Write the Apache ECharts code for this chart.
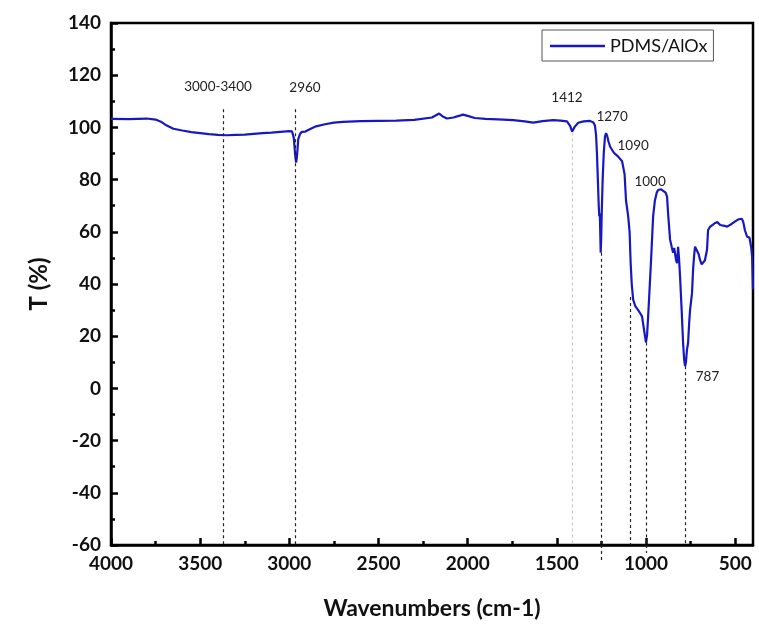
<!DOCTYPE html>
<html>
<head>
<meta charset="utf-8">
<script src="https://cdn.jsdelivr.net/npm/echarts@6/dist/echarts.min.js"></script>
<style>
    html, body { margin: 0; padding: 0; background: #fff; }
    #chart { width: 759px; height: 637px; }
</style>
</head>
<body>
<div id="chart"></div>
<script>
// FTIR spectrum
const wavenumbers = [
    4000, 3900, 3800, 3750, 3720, 3690, 3650, 3600, 3550, 3500, 3450, 3400, 3350, 3300, 3250, 3200,
    3150, 3100, 3050, 3000, 2985, 2975, 2968, 2962, 2957, 2950, 2940, 2930, 2922, 2910, 2880, 2850,
    2800, 2750, 2700, 2600, 2500, 2400, 2300, 2200, 2160, 2140, 2116, 2080, 2040, 2026, 2000, 1960,
    1900, 1800, 1745, 1680, 1633, 1580, 1521, 1480, 1443, 1425, 1414, 1400, 1380, 1350, 1314, 1295,
    1286, 1280, 1275, 1270, 1265, 1262, 1259, 1256, 1254, 1251, 1248, 1243, 1237, 1230, 1224, 1218,
    1210, 1201, 1180, 1156, 1134, 1120, 1112, 1100, 1092, 1086, 1080, 1072, 1060, 1044, 1030, 1022,
    1010, 1000, 994, 988, 980, 971, 960, 950, 940, 932, 915, 904, 890, 882, 875, 865,
    855, 848, 842, 837, 831, 826, 820, 815, 809, 800, 792, 786, 781, 776, 770, 764,
    758, 753, 748, 742, 736, 730, 725, 714, 705, 697, 688, 680, 670, 658, 652, 640,
    625, 612, 600, 596, 590, 584, 560, 545, 520, 500, 480, 473, 463, 455, 445, 433,
    420, 416, 410, 405, 400
];
const transmittance = [
    103.3, 103.2, 103.4, 103.0, 102.2, 100.8, 99.5, 98.8, 98.2, 97.8, 97.4, 97.1, 97.0, 97.1, 97.2, 97.5,
    97.8, 98.0, 98.3, 98.6, 98.5, 96.0, 90.0, 86.5, 89.0, 95.5, 97.5, 98.3, 97.8, 98.4, 99.5, 100.4,
    101.2, 101.8, 102.1, 102.4, 102.5, 102.6, 102.9, 103.8, 105.3, 104.2, 103.4, 103.8, 104.6, 104.9, 104.4, 103.6,
    103.3, 103.0, 102.8, 102.3, 101.8, 102.4, 102.8, 102.6, 102.3, 100.5, 98.4, 100.2, 101.8, 102.3, 102.5, 101.9,
    100.6, 97.0, 90.0, 80.0, 70.0, 66.0, 67.0, 58.0, 52.0, 58.0, 68.0, 80.0, 90.0, 96.5, 97.8, 96.8,
    94.5, 92.6, 90.3, 88.8, 87.0, 82.0, 72.0, 66.0, 60.0, 48.0, 40.0, 34.0, 31.5, 30.0, 28.5, 27.5,
    22.0, 17.6, 20.5, 27.5, 38.0, 50.0, 66.0, 72.0, 75.0, 76.0, 76.3, 76.0, 75.0, 73.5, 66.0, 57.0,
    54.0, 52.0, 53.8, 53.5, 49.0, 48.0, 54.2, 50.0, 42.8, 30.0, 17.4, 11.0, 8.5, 10.0, 15.0, 17.4,
    25.0, 30.0, 33.0, 36.5, 45.4, 51.0, 54.3, 54.6, 51.5, 49.2, 47.5, 47.3, 49.0, 53.0, 60.7, 62.0,
    62.7, 63.4, 63.7, 63.9, 63.2, 62.6, 62.3, 62.0, 63.0, 64.0, 64.8, 65.3, 65.0, 63.9, 60.5, 58.1,
    57.8, 57.6, 54.0, 50.5, 38.0
];

// axis ticks
const xMajorTicks = [500, 1000, 1500, 2000, 2500, 3000, 3500, 4000];
const xMinorTicks = [750, 1250, 1750, 2250, 2750, 3250, 3750];

// peak annotations: dashed guide lines and their labels
const peakLineX = [3370, 2965, 1414, 1252, 1089, 1000, 778];
const peakLineTop = [107, 107, 98, 52, 35, 17.6, 8.5];
const peakLineGray = [false, false, true, false, false, false, false];
const peakLabels = ['3000-3400', '2960', '1412', '1270', '1090', '1000', '787'];
const peakLabelX = [3400, 2912, 1443, 1190, 1072, 977, 655];
const peakLabelY = [115.5, 115.1, 111.3, 104, 92.9, 79.1, 4.4];

const FONT = 'Lato';
const LINE_COLOR = '#1818c0';
const TICK_STYLE = { color: '#000', width: 2.5 };

const chart = echarts.init(document.getElementById('chart'));

const guideLines = peakLineX.map((x, i) => [
    { coord: [x, peakLineTop[i]], lineStyle: { color: peakLineGray[i] ? '#c8c8c8' : '#222' } },
    { coord: [x, -60] }
]);

const labelPoints = peakLabels.map((text, i) => ({
    coord: [peakLabelX[i], peakLabelY[i]],
    value: text
}));

// axes that only carry ticks (same scale as the labelled ones)
function tickOnlyX(values, length) {
    return {
        type: 'value',
        inverse: true,
        min: 400,
        max: 4000,
        position: 'bottom',
        axisLine: { show: false, onZero: false },
        axisTick: { show: true, inside: true, length, customValues: values, lineStyle: TICK_STYLE },
        axisLabel: { show: false },
        splitLine: { show: false }
    };
}

chart.setOption({
    animation: false,
    textStyle: { fontFamily: FONT },
    grid: {
        left: 111,
        right: 6,
        top: 23,
        bottom: 92,
        show: true,
        borderColor: '#000',
        borderWidth: 2.5,
        backgroundColor: 'transparent'
    },
    legend: {
        data: ['PDMS/AlOx'],
        left: 542,
        top: 30,
        padding: [7, 6, 6, 8],
        icon: 'rect',
        itemWidth: 55,
        itemHeight: 2.5,
        itemGap: 5,
        borderColor: '#555',
        borderWidth: 1,
        textStyle: { fontFamily: FONT, fontSize: 18, color: '#111' }
    },
    xAxis: [
        {
            type: 'value',
            inverse: true,
            min: 400,
            max: 4000,
            position: 'bottom',
            name: 'Wavenumbers (cm-1)',
            nameLocation: 'middle',
            nameGap: 52,
            nameTextStyle: { fontFamily: FONT, fontSize: 23, fontWeight: 'bold', color: '#111' },
            axisLine: { show: true, onZero: false, lineStyle: { color: '#000', width: 2.5 } },
            axisTick: { show: false },
            axisLabel: {
                customValues: xMajorTicks,
                formatter: v => String(v),
                margin: 9,
                fontFamily: FONT,
                fontSize: 19,
                fontWeight: 'bold',
                color: '#111'
            },
            splitLine: { show: false }
        },
        tickOnlyX(xMajorTicks, 7),
        tickOnlyX(xMinorTicks, 4)
    ],
    yAxis: [
        {
            type: 'value',
            min: -60,
            max: 140,
            interval: 20,
            position: 'left',
            name: 'T (%)',
            nameLocation: 'middle',
            nameGap: 60,
            nameRotate: 90,
            nameTextStyle: { fontFamily: FONT, fontSize: 24, fontWeight: 'bold', color: '#111' },
            axisLine: { show: true, onZero: false, lineStyle: { color: '#000', width: 2.5 } },
            axisTick: { show: false },
            minorTick: { show: false },
            axisLabel: {
                margin: 10,
                fontFamily: FONT,
                fontSize: 19,
                fontWeight: 'bold',
                color: '#111'
            },
            splitLine: { show: false },
            minorSplitLine: { show: false }
        },
        {
            type: 'value',
            min: -60,
            max: 140,
            interval: 20,
            position: 'left',
            axisLine: { show: false, onZero: false },
            axisTick: { show: true, inside: true, length: 7, lineStyle: TICK_STYLE },
            minorTick: { show: true, splitNumber: 2, length: 4, lineStyle: TICK_STYLE },
            axisLabel: { show: false },
            splitLine: { show: false },
            minorSplitLine: { show: false }
        }
    ],
    series: [
        {
            name: 'PDMS/AlOx',
            type: 'line',
            xAxisIndex: 0,
            yAxisIndex: 0,
            symbol: 'none',
            showSymbol: false,
            clip: false,
            lineStyle: { color: LINE_COLOR, width: 2.2 },
            itemStyle: { color: LINE_COLOR },
            data: wavenumbers.map((w, i) => [w, transmittance[i]]),
            markLine: {
                silent: true,
                symbol: ['none', 'none'],
                label: { show: false },
                emphasis: { disabled: true },
                lineStyle: { type: [3, 3], width: 1.2, color: '#222' },
                data: guideLines
            },
            markPoint: {
                silent: true,
                symbol: 'circle',
                symbolSize: 0,
                itemStyle: { color: 'transparent' },
                label: {
                    show: true,
                    position: 'inside',
                    formatter: p => p.value,
                    fontFamily: FONT,
                    fontSize: 13.5,
                    color: '#222'
                },
                data: labelPoints
            }
        }
    ]
});

// two of the guide lines run a little past the x axis
const extended = [[1252, 18], [1000, 8]];
const extraLines = extended.map(([x, extra]) => {
    const p = chart.convertToPixel({ gridIndex: 0 }, [x, -60]);
    return [{ coord: [x, -60] }, { x: p[0], y: p[1] + extra }];
});
chart.setOption({
    series: [{ markLine: { data: guideLines.concat(extraLines) } }]
});
</script>
</body>
</html>
